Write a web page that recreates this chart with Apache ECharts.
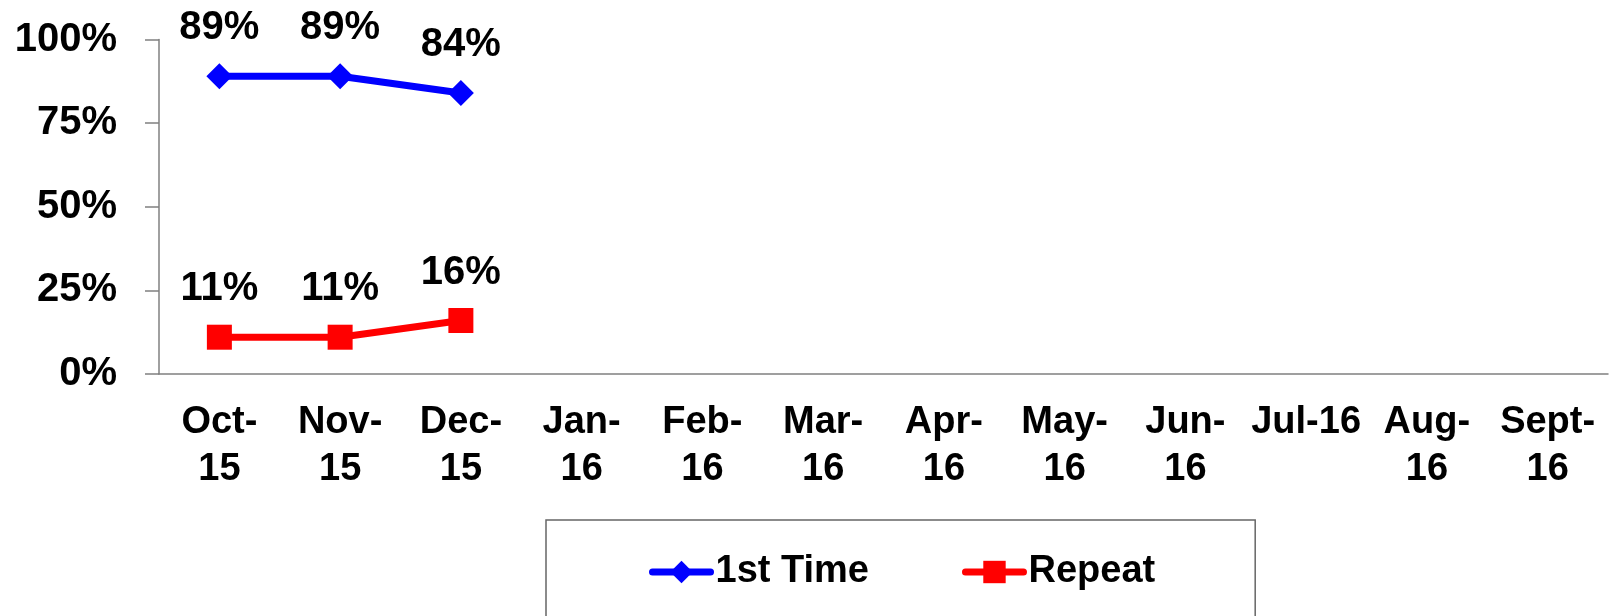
<!DOCTYPE html>
<html>
<head>
<meta charset="utf-8">
<script src="https://cdn.jsdelivr.net/npm/echarts@6/dist/echarts.min.js"></script>
<style>
  html, body { margin: 0; padding: 0; background: #fff; }
  #chartLine { width: 1616px; height: 616px; }
</style>
</head>
<body>
<div id="chartLine"></div>
<script>
// data
const months = ['Oct-\n15', 'Nov-\n15', 'Dec-\n15', 'Jan-\n16', 'Feb-\n16', 'Mar-\n16',
  'Apr-\n16', 'May-\n16', 'Jun-\n16', 'Jul-16', 'Aug-\n16', 'Sept-\n16']
const firstTime = [89, 89, 84, null, null, null, null, null, null, null, null, null]
const repeat = [11, 11, 16, null, null, null, null, null, null, null, null, null]
const yTicks = [0, 25, 50, 75, 100]

const font = '"Liberation Sans", Arial, sans-serif'

let chartLine = echarts.init(document.getElementById('chartLine'))
let option = {
  animation: false,
  textStyle: { fontFamily: font },
  grid: {
    left: 159,
    right: 8,
    top: 39.5,
    bottom: 242
  },
  legend: {
    left: 546,
    top: 520,
    padding: [33, 100, 80, 103],
    borderColor: '#666',
    borderWidth: 1.5,
    itemWidth: 58,
    itemHeight: 28,
    itemGap: 93,
    lineStyle: { width: 7, cap: 'round' },
    textStyle: {
      fontFamily: font,
      fontSize: 38,
      fontWeight: 'bold',
      color: '#000'
    },
    data: ['1st Time', 'Repeat']
  },
  xAxis: {
    type: 'category',
    boundaryGap: true,
    data: months,
    axisLine: { lineStyle: { color: '#808080', width: 1.5 } },
    axisTick: { length: 12, lineStyle: { color: '#808080', width: 1.5 } },
    axisLabel: {
      interval: 0,
      margin: 25,
      fontFamily: font,
      fontSize: 38,
      fontWeight: 'bold',
      lineHeight: 47,
      color: '#000'
    }
  },
  yAxis: {
    type: 'value',
    min: yTicks[0],
    max: yTicks[yTicks.length - 1],
    interval: 25,
    splitLine: { show: false },
    axisLine: { show: true, lineStyle: { color: '#808080', width: 1.5 } },
    axisTick: { show: true, length: 14, lineStyle: { color: '#808080', width: 1.5 } },
    axisLabel: {
      margin: 42,
      fontFamily: font,
      fontSize: 40,
      fontWeight: 'bold',
      color: '#000',
      formatter: '{value}%'
    }
  },
  series: [
    {
      name: '1st Time',
      type: 'line',
      data: firstTime,
      symbol: 'diamond',
      symbolSize: 26,
      itemStyle: { color: '#0000ff' },
      lineStyle: { color: '#0000ff', width: 7 },
      label: {
        show: true,
        position: 'inside',
        offset: [0, -48],
        formatter: '{c}%',
        fontFamily: font,
        fontSize: 40,
        fontWeight: 'bold',
        color: '#000'
      }
    },
    {
      name: 'Repeat',
      type: 'line',
      data: repeat,
      symbol: 'rect',
      symbolSize: 25,
      itemStyle: { color: '#ff0000' },
      lineStyle: { color: '#ff0000', width: 7 },
      label: {
        show: true,
        position: 'inside',
        offset: [0, -48],
        formatter: '{c}%',
        fontFamily: font,
        fontSize: 40,
        fontWeight: 'bold',
        color: '#000'
      }
    }
  ]
}
chartLine.setOption(option)
</script>
</body>
</html>
